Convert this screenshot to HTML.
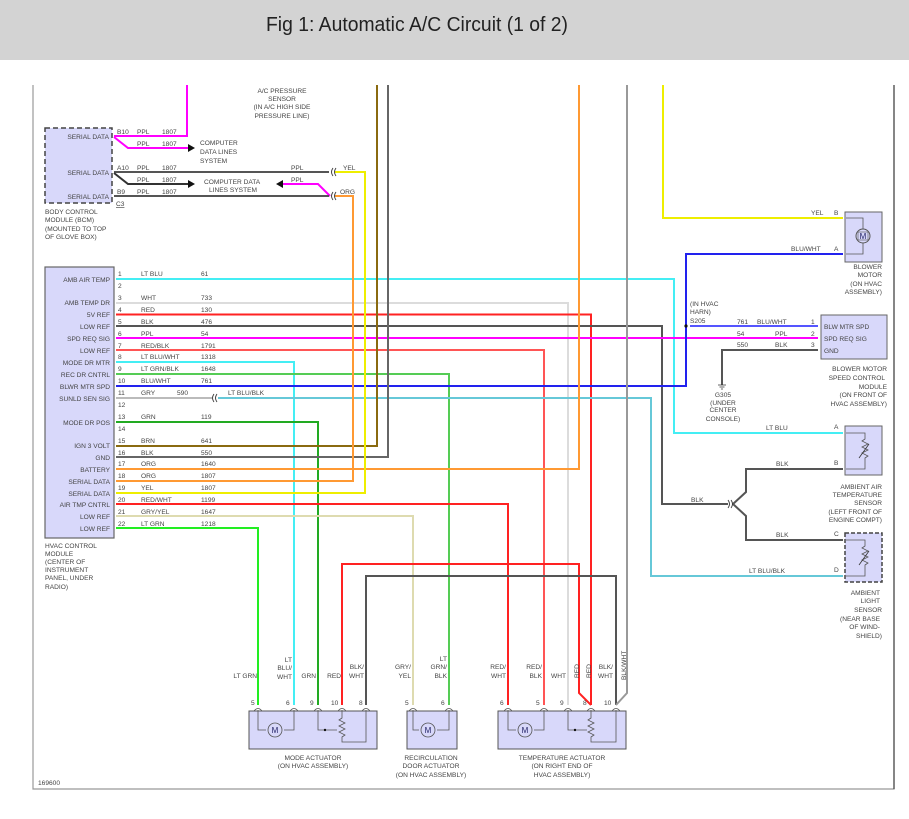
<!DOCTYPE html>
<html><head><meta charset="utf-8"><style>
html,body{margin:0;padding:0;background:#fff}
svg{display:block}
text{font-family:"Liberation Sans",sans-serif;font-size:6.6px;fill:#444}
.r{text-anchor:end}.m{text-anchor:middle}
.w{fill:none;stroke-width:2}
</style></head><body>
<svg width="909" height="819" viewBox="0 0 909 819" xmlns="http://www.w3.org/2000/svg">
<rect x="0" y="0" width="909" height="60" fill="#d3d3d3"/>
<text x="266" y="31" style="font-size:20px;fill:#222" textLength="302" lengthAdjust="spacingAndGlyphs">Fig 1: Automatic A/C Circuit (1 of 2)</text>
<path d="M33,85 V789 H894 V85" fill="none" stroke="#999" stroke-width="1.2"/>
<line x1="894" y1="85" x2="894" y2="789" stroke="#444" stroke-width="1.2"/>
<text x="38" y="785">169600</text>

<!-- A/C pressure sensor -->
<text class="m" x="282" y="93">A/C PRESSURE</text><text class="m" x="282" y="101">SENSOR</text>
<text class="m" x="282" y="109">(IN A/C HIGH SIDE</text><text class="m" x="282" y="118">PRESSURE LINE)</text>

<!-- BCM -->
<rect x="45" y="128" width="67" height="75" fill="#d8d8fa" stroke="#444" stroke-width="1.5" stroke-dasharray="5,3"/>
<text class="r" x="109" y="139">SERIAL DATA</text><text class="r" x="109" y="175">SERIAL DATA</text><text class="r" x="109" y="199">SERIAL DATA</text>
<text x="45" y="214">BODY CONTROL</text><text x="45" y="222">MODULE (BCM)</text><text x="45" y="231">(MOUNTED TO TOP</text><text x="45" y="239">OF GLOVE BOX)</text>
<text x="117" y="134">B10</text><text x="137" y="134">PPL</text><text x="162" y="134">1807</text>
<text x="137" y="146">PPL</text><text x="162" y="146">1807</text>
<text x="200" y="145">COMPUTER</text><text x="200" y="154">DATA LINES</text><text x="200" y="163">SYSTEM</text>
<text x="117" y="170">A10</text><text x="137" y="170">PPL</text><text x="162" y="170">1807</text><text x="291" y="170">PPL</text><text x="343" y="170">YEL</text>
<text x="137" y="182">PPL</text><text x="162" y="182">1807</text><text x="291" y="182">PPL</text>
<text x="204" y="184">COMPUTER DATA</text><text x="209" y="192">LINES SYSTEM</text>
<text x="117" y="194">B9</text><text x="137" y="194">PPL</text><text x="162" y="194">1807</text><text x="340" y="194">ORG</text>
<text x="116" y="206" style="text-decoration:underline">C3</text>
<path class="w" d="M187,85 V136 H114" stroke="#f0f"/>
<path class="w" d="M114,137 L128,148 H190" stroke="#f0f"/>
<polygon points="188,144 195,148 188,152" fill="#111"/>
<path class="w" d="M114,172 H329" stroke="#555"/>
<path class="w" d="M114,173 L128,184 H190" stroke="#333"/>
<polygon points="188,180 195,184 188,188" fill="#111"/>
<polygon points="283,180 276,184 283,188" fill="#111"/>
<path class="w" d="M283,184 H318 L330,196" stroke="#f0f"/>
<path class="w" d="M114,196 H329" stroke="#555"/>

<!-- HVAC module -->
<rect x="45" y="267" width="69" height="271" fill="#d8d8fa" stroke="#666" stroke-width="1.2"/>
<g>
<text class="r" x="110" y="282">AMB AIR TEMP</text>
<text class="r" x="110" y="305">AMB TEMP DR</text>
<text class="r" x="110" y="317">5V REF</text>
<text class="r" x="110" y="329">LOW REF</text>
<text class="r" x="110" y="341">SPD REQ SIG</text>
<text class="r" x="110" y="353">LOW REF</text>
<text class="r" x="110" y="365">MODE DR MTR</text>
<text class="r" x="110" y="377">REC DR CNTRL</text>
<text class="r" x="110" y="389">BLWR MTR SPD</text>
<text class="r" x="110" y="401">SUNLD SEN SIG</text>
<text class="r" x="110" y="425">MODE DR POS</text>
<text class="r" x="110" y="448">IGN 3 VOLT</text>
<text class="r" x="110" y="460">GND</text>
<text class="r" x="110" y="472">BATTERY</text>
<text class="r" x="110" y="484">SERIAL DATA</text>
<text class="r" x="110" y="496">SERIAL DATA</text>
<text class="r" x="110" y="507">AIR TMP CNTRL</text>
<text class="r" x="110" y="519">LOW REF</text>
<text class="r" x="110" y="531">LOW REF</text>
</g>
<text x="45" y="548">HVAC CONTROL</text><text x="45" y="556">MODULE</text><text x="45" y="564">(CENTER OF</text><text x="45" y="572">INSTRUMENT</text><text x="45" y="580">PANEL, UNDER</text><text x="45" y="589">RADIO)</text>
<g>
<text x="118" y="276">1</text><text x="141" y="276">LT BLU</text><text x="201" y="276">61</text>
<text x="118" y="288">2</text>
<text x="118" y="300">3</text><text x="141" y="300">WHT</text><text x="201" y="300">733</text>
<text x="118" y="312">4</text><text x="141" y="312">RED</text><text x="201" y="312">130</text>
<text x="118" y="324">5</text><text x="141" y="324">BLK</text><text x="201" y="324">476</text>
<text x="118" y="336">6</text><text x="141" y="336">PPL</text><text x="201" y="336">54</text>
<text x="118" y="348">7</text><text x="141" y="348">RED/BLK</text><text x="201" y="348">1791</text>
<text x="118" y="359">8</text><text x="141" y="359">LT BLU/WHT</text><text x="201" y="359">1318</text>
<text x="118" y="371">9</text><text x="141" y="371">LT GRN/BLK</text><text x="201" y="371">1648</text>
<text x="118" y="383">10</text><text x="141" y="383">BLU/WHT</text><text x="201" y="383">761</text>
<text x="118" y="395">11</text><text x="141" y="395">GRY</text><text x="177" y="395">590</text><text x="228" y="395">LT BLU/BLK</text>
<text x="118" y="407">12</text>
<text x="118" y="419">13</text><text x="141" y="419">GRN</text><text x="201" y="419">119</text>
<text x="118" y="431">14</text>
<text x="118" y="443">15</text><text x="141" y="443">BRN</text><text x="201" y="443">641</text>
<text x="118" y="455">16</text><text x="141" y="455">BLK</text><text x="201" y="455">550</text>
<text x="118" y="466">17</text><text x="141" y="466">ORG</text><text x="201" y="466">1640</text>
<text x="118" y="478">18</text><text x="141" y="478">ORG</text><text x="201" y="478">1807</text>
<text x="118" y="490">19</text><text x="141" y="490">YEL</text><text x="201" y="490">1807</text>
<text x="118" y="502">20</text><text x="141" y="502">RED/WHT</text><text x="201" y="502">1199</text>
<text x="118" y="514">21</text><text x="141" y="514">GRY/YEL</text><text x="201" y="514">1647</text>
<text x="118" y="526">22</text><text x="141" y="526">LT GRN</text><text x="201" y="526">1218</text>
</g>

<!-- wires -->
<g class="w" fill="none" stroke-width="2">
<path d="M116,279 H674 V433 H843" stroke="#44eef4"/>
<path d="M116,303 H568 V705" stroke="#dcdcdc"/>
<path d="M116,314.5 H591 V705" stroke="#f22"/>
<path d="M116,326 H662 V504 H728" stroke="#555"/>
<path d="M116,338 H818" stroke="#f0f"/>
<path d="M116,350 H544 V705" stroke="#f55"/>
<path d="M116,362 H294 V705" stroke="#44eef4"/>
<path d="M116,374 H449 V705" stroke="#5c5"/>
<path d="M116,386 H686 V254 H843" stroke="#22e"/>
<path d="M690,326 H818" stroke="#55f"/>
<path d="M116,398 H212" stroke="#bbb"/>
<path d="M218,398 H651 V576 H843" stroke="#66c8d8"/>
<path d="M116,422 H318 V705" stroke="#2a2"/>
<path d="M116,446 H377 V85" stroke="#8a6a10"/>
<path d="M116,457 H388 V85" stroke="#666"/>
<path d="M116,469 H579 V85" stroke="#f93"/>
<path d="M116,481 H353 V196 H335" stroke="#f93"/>
<path d="M116,493 H365 V172 H335" stroke="#ee0"/>
<path d="M116,504 H508 V705" stroke="#f22"/>
<path d="M116,516 H413 V705" stroke="#dedbb0"/>
<path d="M116,528 H258 V705" stroke="#2e2"/>
<path d="M342,705 V564 H579 V693 L591,705" stroke="#f22"/>
<path d="M366,705 V576 H616 V705" stroke="#555"/>
<path d="M616,705 L627,693 V85" stroke="#999"/>
<path d="M663,85 V218 H843" stroke="#ee0"/>
<path d="M818,350 H722 V385" stroke="#555"/>
<path d="M733,504 L746,492 V469 H843 M733,504 L746,516 V540 H843" stroke="#555"/>
</g>
<!-- connectors -->
<g fill="none" stroke="#333" stroke-width="0.9">
<path d="M214,394 q-3,4 0,8 M217,394 q-3,4 0,8"/>
<path d="M333,168 q-3,4 0,8 M336,168 q-3,4 0,8"/>
<path d="M333,192 q-3,4 0,8 M336,192 q-3,4 0,8"/>
<path d="M728,500 q3,4 0,8 M731,500 q3,4 0,8"/>
</g>
<circle cx="686" cy="326" r="1.6" fill="#111"/>
<path d="M718,385 h8 M719.5,387 h5 M721,389 h2" stroke="#333" stroke-width="0.8"/>
<text x="690" y="306">(IN HVAC</text><text x="690" y="314">HARN)</text><text x="690" y="323">S205</text>
<text class="m" x="723" y="397">G305</text><text class="m" x="723" y="405">(UNDER</text><text class="m" x="723" y="412">CENTER</text><text class="m" x="723" y="421">CONSOLE)</text>

<!-- blower motor -->
<rect x="845" y="212" width="37" height="50" fill="#d8d8fa" stroke="#666"/>
<path d="M846,218 H863 V229 M863,243 V254 H846" fill="none" stroke="#555" stroke-width="0.8"/>
<circle cx="863" cy="236" r="7" fill="#d8d8fa" stroke="#555"/><rect x="858" y="232" width="10" height="8" fill="none" stroke="#555" stroke-width="0.6"/>
<text class="m" x="863" y="239" style="font-size:8px;fill:#226">M</text>
<text x="834" y="215">B</text><text x="834" y="251">A</text>
<text x="811" y="215">YEL</text><text x="791" y="251">BLU/WHT</text>
<text class="r" x="882" y="269">BLOWER</text><text class="r" x="882" y="277">MOTOR</text><text class="r" x="882" y="286">(ON HVAC</text><text class="r" x="882" y="294">ASSEMBLY)</text>

<!-- blower module -->
<rect x="821" y="315" width="66" height="44" fill="#d8d8fa" stroke="#666"/>
<text x="824" y="329">BLW MTR SPD</text><text x="824" y="341">SPD REQ SIG</text><text x="824" y="353">GND</text>
<text x="811" y="324">1</text><text x="811" y="336">2</text><text x="811" y="347">3</text>
<text x="737" y="324">761</text><text x="757" y="324">BLU/WHT</text>
<text x="737" y="336">54</text><text x="775" y="336">PPL</text>
<text x="737" y="347">550</text><text x="775" y="347">BLK</text>
<text class="r" x="887" y="371">BLOWER MOTOR</text><text class="r" x="885" y="380">SPEED CONTROL</text><text class="r" x="887" y="389">MODULE</text><text class="r" x="887" y="397">(ON FRONT OF</text><text class="r" x="887" y="406">HVAC ASSEMBLY)</text>

<!-- ambient air temp sensor -->
<rect x="845" y="426" width="37" height="49" fill="#d8d8fa" stroke="#666"/>
<path d="M846,433 H865 V439 l-3,2 6,3 -6,3 6,3 -6,3 6,3 -3,2 V469 H846" fill="none" stroke="#555" stroke-width="0.8"/>
<path d="M859,458 L869,444" stroke="#333" stroke-width="0.8"/>
<text x="834" y="429">A</text><text x="834" y="465">B</text><text x="834" y="536">C</text><text x="834" y="572">D</text>
<text x="766" y="430">LT BLU</text><text x="776" y="466">BLK</text><text x="691" y="502">BLK</text><text x="776" y="537">BLK</text><text x="749" y="573">LT BLU/BLK</text>
<text class="r" x="882" y="489">AMBIENT AIR</text><text class="r" x="882" y="497">TEMPERATURE</text><text class="r" x="882" y="505">SENSOR</text><text class="r" x="882" y="514">(LEFT FRONT OF</text><text class="r" x="882" y="522">ENGINE COMPT)</text>

<!-- ambient light sensor -->
<rect x="845" y="533" width="37" height="49" fill="#d8d8fa" stroke="#444" stroke-width="1.5" stroke-dasharray="4,2"/>
<path d="M846,540 H865 V546 l-3,2 6,3 -6,3 6,3 -6,3 6,3 -3,2 V576 H846" fill="none" stroke="#555" stroke-width="0.8"/>
<path d="M859,565 L869,551" stroke="#333" stroke-width="0.8"/>
<text class="r" x="880" y="595">AMBIENT</text><text class="r" x="880" y="603">LIGHT</text><text class="r" x="882" y="612">SENSOR</text><text class="r" x="880" y="621">(NEAR BASE</text><text class="r" x="880" y="629">OF WIND-</text><text class="r" x="882" y="638">SHIELD)</text>

<!-- actuators -->
<g fill="#d8d8fa" stroke="#555" stroke-width="1">
<rect x="249" y="711" width="128" height="38"/>
<rect x="407" y="711" width="50" height="38"/>
<rect x="498" y="711" width="128" height="38"/>
</g>
<g fill="none" stroke="#555" stroke-width="0.8">
<path d="M258,710 V730 H266 M284,730 H294 V710"/>
<path d="M318,710 V730 H337 M342,710 V718 l-3,2 6,3 -6,3 6,3 -6,3 6,3 -3,2 V742 H366 V710"/>
<path d="M413,710 V730 H419 M437,730 H449 V710"/>
<path d="M508,710 V730 H516 M534,730 H544 V710"/>
<path d="M568,710 V730 H587 M591,710 V718 l-3,2 6,3 -6,3 6,3 -6,3 6,3 -3,2 V742 H616 V710"/>
</g>
<g fill="#d8d8fa" stroke="#555" stroke-width="0.8">
<circle cx="275" cy="730" r="7"/><circle cx="428" cy="730" r="7"/><circle cx="525" cy="730" r="7"/>
</g>
<text class="m" x="275" y="733" style="font-size:8px;fill:#226">M</text>
<text class="m" x="428" y="733" style="font-size:8px;fill:#226">M</text>
<text class="m" x="525" y="733" style="font-size:8px;fill:#226">M</text>
<circle cx="325" cy="730" r="1.2" fill="#111"/><circle cx="575" cy="730" r="1.2" fill="#111"/>
<g fill="none" stroke="#555" stroke-width="0.8">
<path d="M254,711 q4,-5 8,0 M290,711 q4,-5 8,0 M314,711 q4,-5 8,0 M338,711 q4,-5 8,0 M362,711 q4,-5 8,0"/>
<path d="M409,711 q4,-5 8,0 M445,711 q4,-5 8,0"/>
<path d="M504,711 q4,-5 8,0 M540,711 q4,-5 8,0 M564,711 q4,-5 8,0 M587,711 q4,-5 8,0 M612,711 q4,-5 8,0"/>
</g>
<text x="251" y="705">5</text><text x="286" y="705">6</text><text x="310" y="705">9</text><text x="331" y="705">10</text><text x="359" y="705">8</text>
<text x="405" y="705">5</text><text x="441" y="705">6</text>
<text x="500" y="705">6</text><text x="536" y="705">5</text><text x="560" y="705">9</text><text x="583" y="705">8</text><text x="604" y="705">10</text>
<text class="r" x="257" y="678">LT GRN</text>
<text class="r" x="292" y="662">LT</text><text class="r" x="292" y="670">BLU/</text><text class="r" x="292" y="679">WHT</text>
<text class="r" x="316" y="678">GRN</text><text class="r" x="341" y="678">RED</text>
<text class="r" x="364" y="669">BLK/</text><text class="r" x="364" y="678">WHT</text>
<text class="r" x="411" y="669">GRY/</text><text class="r" x="411" y="678">YEL</text>
<text class="r" x="447" y="661">LT</text><text class="r" x="447" y="669">GRN/</text><text class="r" x="447" y="678">BLK</text>
<text class="r" x="506" y="669">RED/</text><text class="r" x="506" y="678">WHT</text>
<text class="r" x="542" y="669">RED/</text><text class="r" x="542" y="678">BLK</text>
<text class="r" x="566" y="678">WHT</text>
<text transform="translate(579,678) rotate(-90)">RED</text>
<text transform="translate(591,678) rotate(-90)">RED</text>
<text class="r" x="613" y="669">BLK/</text><text class="r" x="613" y="678">WHT</text>
<text transform="translate(626,680) rotate(-90)">BLK/WHT</text>
<text class="m" x="313" y="760">MODE ACTUATOR</text><text class="m" x="313" y="768">(ON HVAC ASSEMBLY)</text>
<text class="m" x="431" y="760">RECIRCULATION</text><text class="m" x="431" y="768">DOOR ACTUATOR</text><text class="m" x="431" y="777">(ON HVAC ASSEMBLY)</text>
<text class="m" x="562" y="760">TEMPERATURE ACTUATOR</text><text class="m" x="562" y="768">(ON RIGHT END OF</text><text class="m" x="562" y="777">HVAC ASSEMBLY)</text>
</svg>
</body></html>
